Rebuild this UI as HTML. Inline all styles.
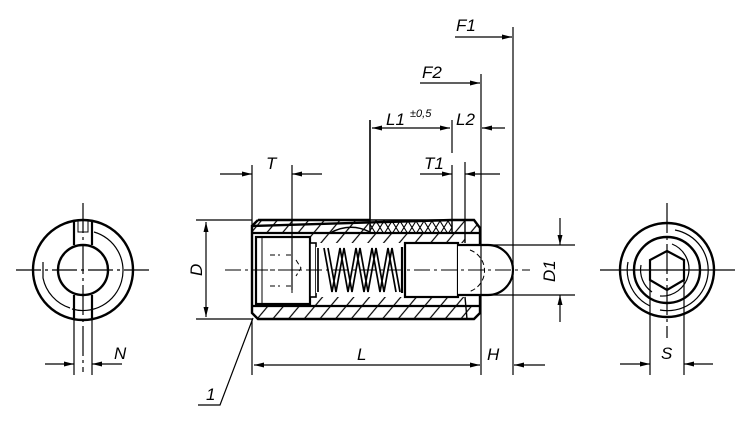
<!DOCTYPE html>
<html><head><meta charset="utf-8"><style>
html,body{margin:0;padding:0;background:#fff;}
svg{display:block;}
text{font-family:"Liberation Sans",sans-serif;font-style:italic;font-size:17px;fill:#000;}
</style></head><body>
<svg width="750" height="422" viewBox="0 0 750 422" xmlns="http://www.w3.org/2000/svg">
<defs>
<pattern id="h" width="12" height="12" patternUnits="userSpaceOnUse" patternTransform="rotate(40)">
<line x1="6" y1="0" x2="6" y2="12" stroke="#000" stroke-width="1.2"/></pattern>
<pattern id="k" width="8" height="13" patternUnits="userSpaceOnUse">
<path d="M0,0 L8,13 M8,0 L0,13" stroke="#000" stroke-width="1.1"/></pattern>
<marker id="a" viewBox="0 0 12 6" refX="12" refY="3" markerWidth="13" markerHeight="5" orient="auto-start-reverse" markerUnits="userSpaceOnUse"><path d="M0,0 L12,3 L0,6 z"/></marker>
</defs>
<g fill="none" stroke="#000">
<path d="M252,226 L258,220 L370,220 L370,233 L252,233 z" fill="url(#h)" stroke="none"/>
<path d="M452,220 L474,220 L480,228 L480,233 L452,233 z" fill="url(#h)" stroke="none"/>
<path d="M252,306 L480,306 L480,313 L474,319 L258,319 L252,313 z" fill="url(#h)" stroke="none"/>
<path d="M310,233 L465,233 L465,243 L310,243 z" fill="url(#h)" stroke="none"/>
<path d="M310,297 L465,297 L465,306 L310,306 z" fill="url(#h)" stroke="none"/>
<rect x="370" y="220" width="82" height="13" fill="url(#k)" stroke-width="1.5"/>
<path d="M258,220 L370,220 M452,220 L474,220 L480,228 L480,313 L474,319 L258,319 L252,313 L252,226 z" stroke-width="2.4"/>
<path d="M258,220 L252,226" stroke-width="2.4"/>
<line x1="252" y1="233" x2="480" y2="233" stroke-width="2.2"/>
<line x1="252" y1="306" x2="480" y2="306" stroke-width="2.2"/>
<path d="M330,233 Q350,222 370,232" stroke-width="1.5"/>
<line x1="465" y1="220" x2="465" y2="243" stroke-width="1.4"/>
<line x1="465" y1="297" x2="467" y2="319" stroke-width="1.4"/>
<rect x="256" y="237" width="54" height="67" stroke-width="2.2" fill="#fff"/>
<line x1="262" y1="238" x2="262" y2="303" stroke-width="1"/>
<path d="M270,255 h10 M286,255 h8 M270,270 h30 M270,286 h10 M286,286 h8 M292,248 v45 M296,260 l5,8 l-5,8" stroke-width="1" stroke-dasharray="5,3"/>
<rect x="310" y="243" width="6" height="54" stroke-width="1.6" fill="#fff"/>
<rect x="316" y="247" width="86" height="46" fill="#fff" stroke="none"/>
<path d="M318,248 L318,292 M324,248 L332,292 L340,248 L348,292 L356,248 L364,292 L372,248 L380,292 L388,248 L396,292 M328,248 L336,292 L344,248 L352,292 L360,248 L368,292 L376,248 L384,292 L392,248 L400,292" stroke-width="1.7"/>
<line x1="402" y1="247" x2="402" y2="293" stroke-width="2.2"/>
<rect x="405" y="243" width="53" height="54" stroke-width="2.2" fill="#fff"/>
<path d="M458,245 L488,245 A25,25 0 0 1 488,295 L458,295" stroke-width="2.2" fill="#fff"/>
<path d="M470,250 A22,22 0 0 1 468,292" stroke-width="1" stroke-dasharray="5,3"/>
<line x1="225" y1="270" x2="530" y2="270" stroke-width="1" stroke-dasharray="16,4,3,4"/>
<g stroke-width="1.2">
<line x1="252" y1="165" x2="252" y2="226"/>
<line x1="292" y1="165" x2="292" y2="290"/>
<line x1="220" y1="174" x2="252" y2="174" marker-end="url(#a)"/>
<line x1="322" y1="174" x2="292" y2="174" marker-end="url(#a)"/>
<line x1="196" y1="220" x2="252" y2="220"/>
<line x1="196" y1="319" x2="252" y2="319"/>
<line x1="206" y1="222" x2="206" y2="317" marker-start="url(#a)" marker-end="url(#a)"/>
<line x1="370" y1="120" x2="370" y2="220" stroke-width="1.6"/>
<line x1="452" y1="120" x2="452" y2="153"/>
<line x1="452" y1="165" x2="452" y2="220"/>
<line x1="465" y1="162" x2="465" y2="220"/>
<line x1="481" y1="74" x2="481" y2="375"/>
<line x1="513" y1="27" x2="513" y2="375"/>
<line x1="372" y1="128" x2="450" y2="128" marker-start="url(#a)" marker-end="url(#a)"/>
<line x1="505" y1="128" x2="482" y2="128" marker-end="url(#a)"/>
<line x1="420" y1="174" x2="452" y2="174" marker-end="url(#a)"/>
<line x1="500" y1="174" x2="465" y2="174" marker-end="url(#a)"/>
<line x1="420" y1="83" x2="480" y2="83" marker-end="url(#a)"/>
<line x1="455" y1="37" x2="512" y2="37" marker-end="url(#a)"/>
<line x1="488" y1="245" x2="575" y2="245"/>
<line x1="488" y1="295" x2="575" y2="295"/>
<line x1="560" y1="218" x2="560" y2="245" marker-end="url(#a)"/>
<line x1="560" y1="322" x2="560" y2="295" marker-end="url(#a)"/>
<line x1="252" y1="319" x2="252" y2="375"/>
<line x1="254" y1="365" x2="480" y2="365" marker-start="url(#a)" marker-end="url(#a)"/>
<line x1="545" y1="365" x2="514" y2="365" marker-end="url(#a)"/>
<polyline points="253,318 220,405 198,405"/>
</g>
<g>
<circle cx="83" cy="270" r="50" stroke-width="2.4"/>
<circle cx="83" cy="270" r="25" stroke-width="2.4" fill="#fff"/>
<path d="M94,232 A40,40 0 0 1 72,309" stroke-width="1.2"/>
<path d="M43,262 L43,278 A40,40 0 0 0 70,308" stroke-width="1.2"/>
<path d="M74,221 L74,245 M92,221 L92,245 M74,295 L74,318 M92,295 L92,318" stroke-width="2.2"/>
<path d="M78,220 L78,232 L88,232 L88,220" stroke-width="1"/>
<line x1="16" y1="270" x2="150" y2="270" stroke-width="1.2" stroke-dasharray="25,4,3,4"/>
<line x1="83" y1="203" x2="83" y2="372" stroke-width="1.2" stroke-dasharray="30,4,3,4"/>
<line x1="74" y1="318" x2="74" y2="375" stroke-width="1.2"/>
<line x1="92" y1="318" x2="92" y2="375" stroke-width="1.2"/>
<line x1="45" y1="364" x2="74" y2="364" stroke-width="1.2" marker-end="url(#a)"/>
<line x1="122" y1="364" x2="92" y2="364" stroke-width="1.2" marker-end="url(#a)"/>
</g>
<g>
<circle cx="667" cy="270" r="47" stroke-width="2.4"/>
<circle cx="667" cy="270" r="33" stroke-width="2.4"/>
<path d="M675,230 A40,40 0 0 1 660,310" stroke-width="1.2"/>
<path d="M628,262 A40,40 0 0 0 650,306" stroke-width="1.2"/>
<path d="M672,244 A27,27 0 0 1 660,296" stroke-width="1.2"/>
<path d="M641,265 A27,27 0 0 0 652,292" stroke-width="1.2"/>
<polygon points="667,251 684,260 684,280 667,290 650,280 650,260" stroke-width="2.2"/>
<line x1="600" y1="270" x2="735" y2="270" stroke-width="1.2"/>
<line x1="667" y1="203" x2="667" y2="338" stroke-width="1.2" stroke-dasharray="30,4,3,4"/>
<line x1="650" y1="270" x2="650" y2="375" stroke-width="1.2"/>
<line x1="684" y1="270" x2="684" y2="375" stroke-width="1.2"/>
<line x1="620" y1="364" x2="650" y2="364" stroke-width="1.2" marker-end="url(#a)"/>
<line x1="713" y1="364" x2="684" y2="364" stroke-width="1.2" marker-end="url(#a)"/>
</g>
</g>
<text x="266" y="169">T</text>
<text x="424" y="169">T1</text>
<text x="386" y="125">L1</text>
<text x="410" y="117" style="font-size:11px">±0,5</text>
<text x="456" y="125">L2</text>
<text x="422" y="78">F2</text>
<text x="456" y="31">F1</text>
<text x="357" y="360">L</text>
<text x="487" y="360">H</text>
<text x="206" y="400">1</text>
<text x="114" y="359">N</text>
<text x="661" y="359">S</text>
<text transform="translate(202,276) rotate(-90)">D</text>
<text transform="translate(555,282) rotate(-90)">D1</text>
</svg>
</body></html>
